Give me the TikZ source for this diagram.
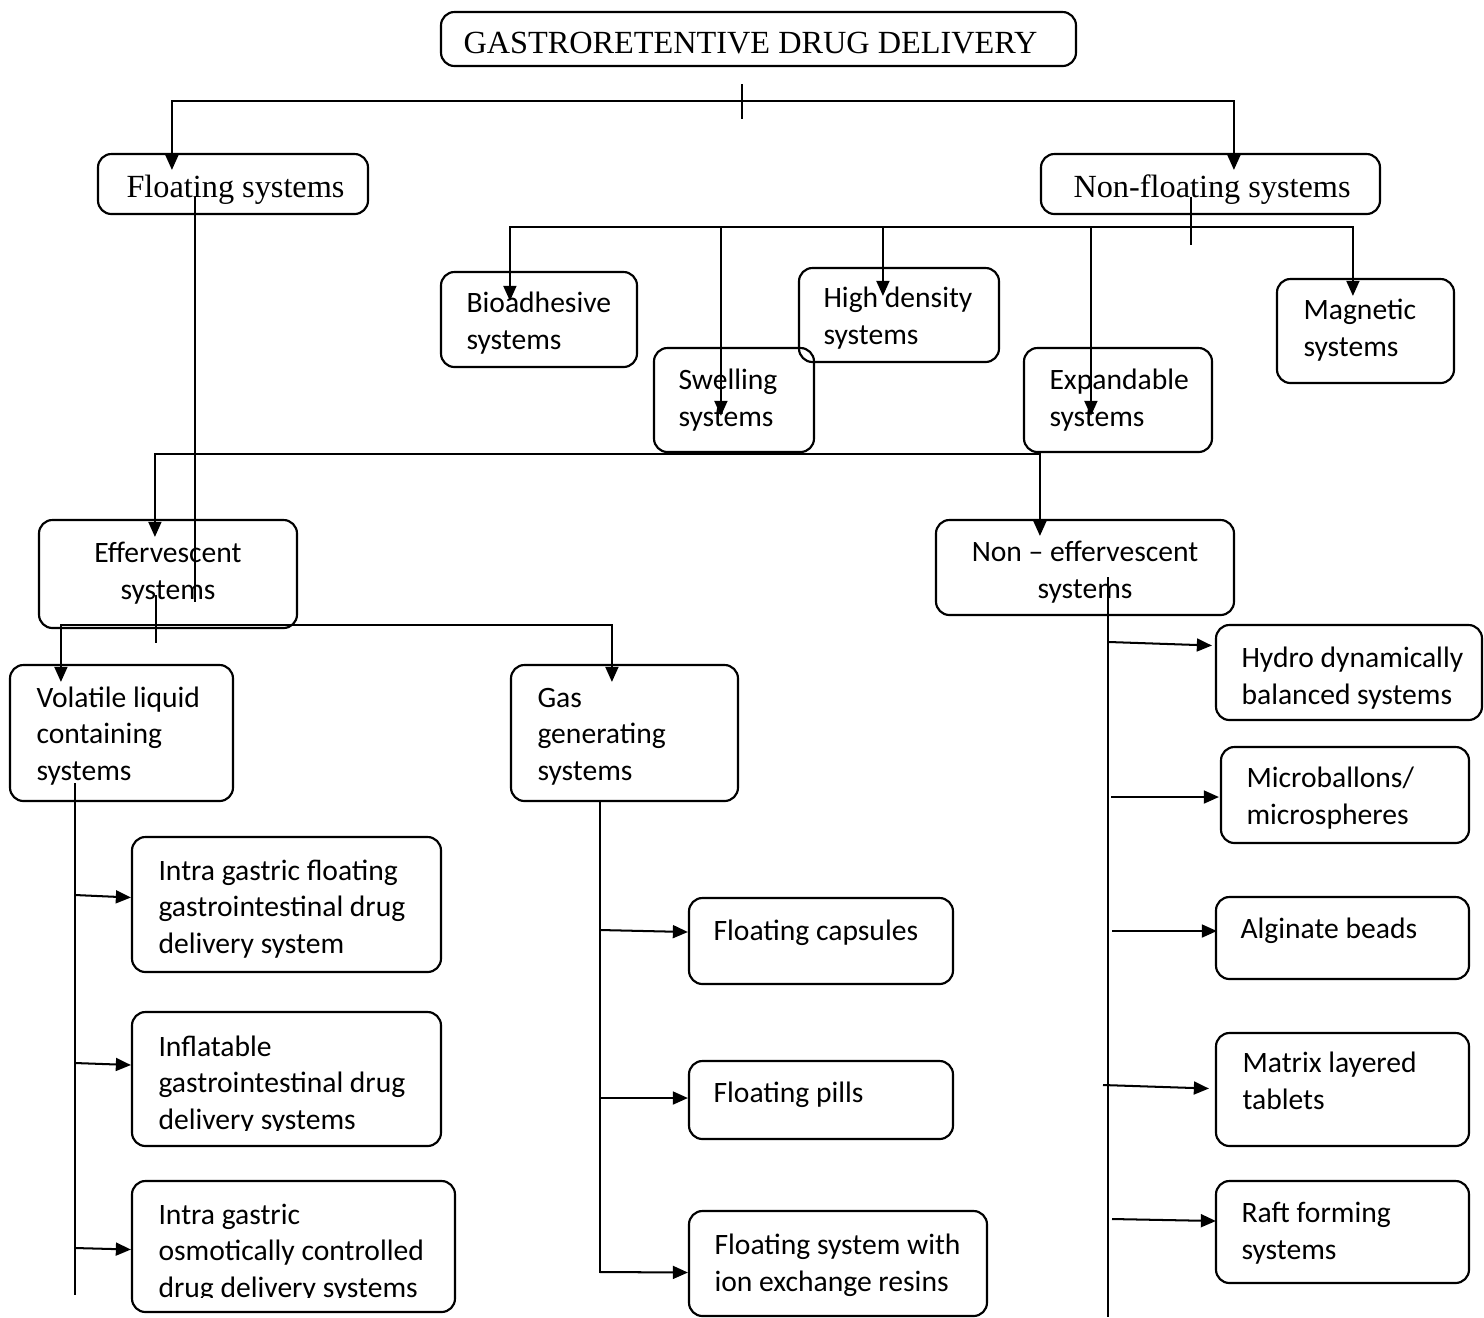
\documentclass[tikz,border=0pt]{standalone}
\usepackage{fontspec}
\setmainfont{Liberation Serif}
\newfontfamily\calibri{Carlito}
\usetikzlibrary{arrows.meta,fit,calc}

\begin{document}
\begin{tikzpicture}[x=0.3717pt, y=-0.3717pt,
    box/.style={draw, line width=0.8pt, rounded corners=5pt, inner sep=0pt},
    lbl/.style={font=\calibri\fontsize{11}{13.4}\selectfont, align=left, inner sep=0pt, anchor=base west},
    clbl/.style={lbl, align=center, anchor=base},
    ttl/.style={font=\fontsize{12}{14}\selectfont, inner sep=0pt, anchor=base west},
    wire/.style={line width=0.75pt},
    arr/.style={wire, -{Triangle[length=5.6pt,width=4.8pt]}}]
\useasboundingbox (0,0) rectangle (1484,1317);

% top levels
\node[box, fit={(441,12) (1076,66)}] (root) {};
\node[ttl] (root-t) at (463,53) {GASTRORETENTIVE DRUG DELIVERY};
\node[box, fit={(98,154) (368,214)}] (flo) {};
\node[ttl] (flo-t) at (126,197) {Floating systems};
\node[box, fit={(1041,154) (1380,214)}] (nfl) {};
\node[ttl] (nfl-t) at (1073,197) {Non-floating systems};

% non-floating branch (labels placed at the last baseline)
\node[box, fit={(441,272) (637,367)}] (bio) {};
\node[lbl] (bio-t) at (466,349) {Bioadhesive\\systems};
\node[box, fit={(654,348) (814,452)}] (swe) {};
\node[lbl] (swe-t) at (678,426) {Swelling\\systems};
\node[box, fit={(799,268) (999,362)}] (hig) {};
\node[lbl] (hig-t) at (823,344) {High density\\systems};
\node[box, fit={(1024,348) (1212,452)}] (exa) {};
\node[lbl] (exa-t) at (1049,426) {Expandable\\systems};
\node[box, fit={(1277,279) (1454,383)}] (mag) {};
\node[lbl] (mag-t) at (1303,356) {Magnetic\\systems};

% floating branch
\node[box, fit={(39,520) (297,628)}] (eff) {};
\node[clbl] (eff-t) at (168,599) {Effervescent\\systems};
\node[box, fit={(936,520) (1234,615)}] (nef) {};
\node[clbl] (nef-t) at (1085,598) {Non – effervescent\\systems};

\node[box, fit={(10,665) (233,801)}] (vol) {};
\node[lbl] (vol-t) at (36,780) {Volatile liquid\\containing\\systems};
\node[box, fit={(511,665) (738,801)}] (gas) {};
\node[lbl] (gas-t) at (537,780) {Gas\\generating\\systems};

\node[box, fit={(132,837) (441,972)}] (igf) {};
\node[lbl] (igf-t) at (158,953) {Intra gastric floating\\gastrointestinal drug\\delivery system};
\node[box, fit={(132,1012) (441,1146)}] (inf) {};
\begin{scope}
  \clip (132,1012) rectangle (441,1130);
  \node[lbl] (inf-t) at (158,1129) {Inflatable\\gastrointestinal drug\\delivery systems};
\end{scope}
\node[box, fit={(132,1181) (455,1312)}] (osm) {};
\begin{scope}
  \clip (132,1181) rectangle (455,1297);
  \node[lbl] (osm-t) at (158,1297) {Intra gastric\\osmotically controlled\\drug delivery systems};
\end{scope}

\node[box, fit={(689,898) (953,984)}] (fcap) {};
\node[lbl] (fcap-t) at (713,940) {Floating capsules};
\node[box, fit={(689,1061) (953,1139)}] (fpil) {};
\node[lbl] (fpil-t) at (713,1102) {Floating pills};
\node[box, fit={(689,1211) (987,1316)}] (fion) {};
\node[lbl] (fion-t) at (714,1291) {Floating system with\\ion exchange resins};

\node[box, fit={(1216,625) (1482,720)}] (hyd) {};
\node[lbl] (hyd-t) at (1241,704) {Hydro dynamically\\balanced systems};
\node[box, fit={(1221,747) (1469,843)}] (mic) {};
\node[lbl] (mic-t) at (1246,824) {Microballons/\\microspheres};
\node[box, fit={(1216,897) (1469,979)}] (alg) {};
\node[lbl] (alg-t) at (1240,938) {Alginate beads};
\node[box, fit={(1216,1033) (1469,1146)}] (mat) {};
\node[lbl] (mat-t) at (1242,1109) {Matrix layered\\tablets};
\node[box, fit={(1216,1181) (1469,1283)}] (raf) {};
\node[lbl] (raf-t) at (1241,1259) {Raft forming\\systems};

% junctions
\coordinate (j0) at (742,101);
\coordinate (j1) at (1191,227);
\coordinate (j2) at (195,454);
\coordinate (j3) at (156,625);

% connectors, top
\draw[wire] (742,84) -- (742,119);
\draw[arr] (j0) -| ($(flo.north west)+(75,17)$);
\draw[arr] (j0) -| ($(nfl.north west)+(194,17)$);

% connectors, non-floating
\draw[wire] (1191,197) -- (1191,245);
\draw[arr] (j1) -| ($(bio.north west)+(70,30)$);
\draw[arr] (j1) -| ($(swe.north west)+(68,69)$);
\draw[arr] (j1) -| ($(hig.north west)+(85,29)$);
\draw[arr] (j1) -| ($(exa.north west)+(68,69)$);
\draw[arr] (j1) -| ($(mag.north west)+(77,18)$);

% connectors, floating
\draw[wire] (flo-t.base -| j2) -- (195,602);
\draw[arr] (j2) -| ($(eff.north west)+(117,18)$);
\draw[arr] (j2) -| ($(nef.north west)+(105,17)$);

\draw[wire] (156,595) -- (156,643);
\draw[arr] (j3) -| ($(vol.north west)+(52,18)$);
\draw[arr] (j3) -| ($(gas.north west)+(102,18)$);

% volatile liquid branch
\draw[wire] (75,783) -- (75,1295);
\foreach \n/\y/\dy in {igf/895/-7, inf/1063/-14, osm/1248/3}
  \draw[arr] (75,\y) -- ($(\n.west)+(0,\dy)$);

% gas generating branch
\draw[wire] (600,801) -- (600,1273);
\foreach \n/\y/\dy in {fcap/930/-9, fpil/1098/-2, fion/1272/9}
  \draw[arr] (600,\y) -- ($(\n.west)+(0,\dy)$);

% non-effervescent branch
\draw[wire] (1108,577) -- (1108,1317);
\foreach \n/\x/\y/\dx/\dy in {hyd/1109/642/-3/-27, mic/1111/797/-1/2, alg/1112/931/2/-7, mat/1103/1085/-6/-1, raf/1112/1219/1/-11}
  \draw[arr] (\x,\y) -- ($(\n.west)+(\dx,\dy)$);
\end{tikzpicture}
\end{document}
